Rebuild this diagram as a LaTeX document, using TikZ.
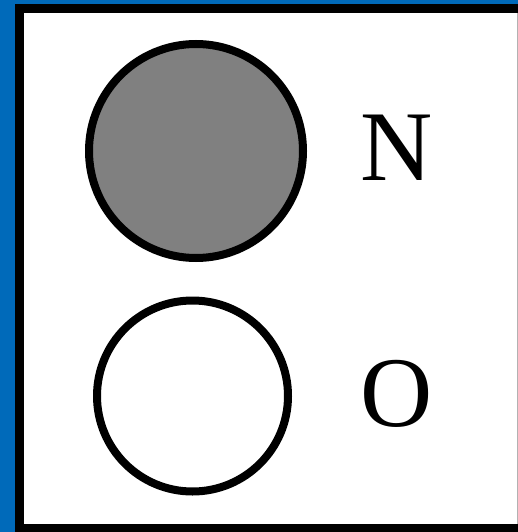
\documentclass[tikz,border=0pt]{standalone}
\usepackage{fontspec}
\setmainfont{Liberation Serif}
\definecolor{bgblue}{RGB}{0,106,186}
\definecolor{atomgray}{RGB}{128,128,128}
\begin{document}
\begin{tikzpicture}[x=1pt,y=-1pt,
  atom/.style={circle,draw=black,line width=8pt,inner sep=0pt},
  frame/.style={line width=9pt,line cap=rect},
  lbl/.style={anchor=base,inner sep=0pt,font=\fontsize{100}{100}\selectfont}]
\useasboundingbox (0,0) rectangle (518,532);
\fill[bgblue] (0,0) rectangle (518,532);
\fill[white] (15,4) rectangle (518,532);
\coordinate (tl) at (19.5,8.5);
\coordinate (tr) at (518,8.5);
\coordinate (bl) at (19.5,528.5);
\coordinate (br) at (518,528.5);
\draw[frame] (tr) -- (tl) -- (bl) -- (br);
\draw[gray!60,line width=1pt] (517.5,13) -- (517.5,524);
\node[atom,fill=atomgray,minimum size=214pt] (n) at (196,151) {};
\node[atom,fill=white,minimum size=191pt] (o) at (192.5,396) {};
\node[lbl] (nl) at (397,180) {N};
\node[lbl] (ol) at (397,426) {O};
\end{tikzpicture}
\end{document}
